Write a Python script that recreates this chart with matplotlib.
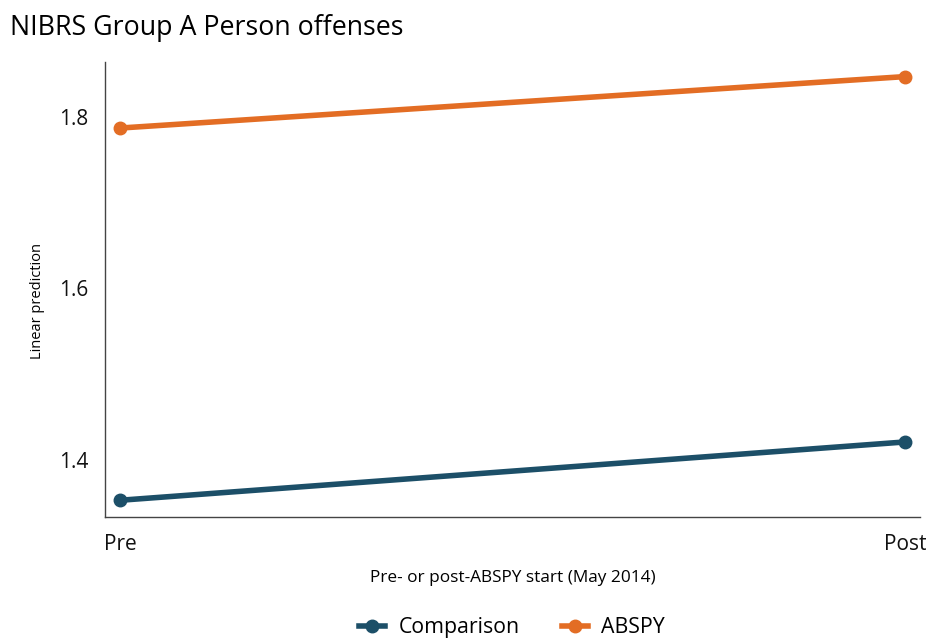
import matplotlib
matplotlib.use("Agg")
import matplotlib.pyplot as plt
from matplotlib.lines import Line2D

plt.rcParams['font.family'] = ['Open Sans', 'DejaVu Sans']

periods = ["Pre", "Post"]
comparison = [1.353, 1.421]
absp = [1.787, 1.847]
series_names = ["Comparison", "ABSPY"]
colors = ["#1c4f68", "#e36d24"]

fig = plt.figure(figsize=(9.33, 6.42), dpi=100)
ax = fig.add_axes([0.1125, 0.1947, 0.8735, 0.7087])

x = list(range(len(periods)))
for vals, c in zip([comparison, absp], colors):
    ax.plot(x, vals, color=c, lw=4, marker="o", ms=9, solid_capstyle="round")

ax.set_xlim(-15 / 785, 1 + 15 / 785)
ax.set_ylim(1.3335, 1.864)
ax.set_yticks([1.4, 1.6, 1.8])
ax.set_yticklabels(["1.4", "1.6", "1.8"])
ax.set_xticks(x)
ax.set_xticklabels(periods)
ax.tick_params(length=0, labelsize=15, colors="#111111")
ax.tick_params(axis="y", pad=12)
ax.tick_params(axis="x", pad=12)
for s in ["top", "right"]:
    ax.spines[s].set_visible(False)
for s in ["left", "bottom"]:
    ax.spines[s].set_color("#444444")
    ax.spines[s].set_linewidth(1.0)

ax.set_ylabel("Linear prediction", fontsize=10.5)
ax.yaxis.set_label_coords(-0.074, 0.474)
ax.set_xlabel("Pre- or post-ABSPY start (May 2014)", fontsize=12.4, labelpad=11)

fig.text(0.011, 0.945, "NIBRS Group A Person offenses", fontsize=19.3, ha="left", va="baseline")

handles = [Line2D([0], [0], color=c, lw=4, marker="o", ms=9) for c in colors]
fig.legend(handles, series_names, loc="center", bbox_to_anchor=(0.549, 0.022),
           ncol=2, frameon=False, fontsize=15.3, handlelength=1.2, columnspacing=2.0,
           handletextpad=0.65)

fig.savefig("out.png", dpi=100)
